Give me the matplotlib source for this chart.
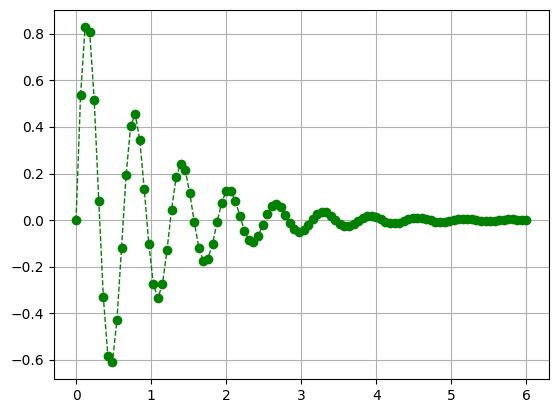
import numpy as np
import matplotlib
matplotlib.use("Agg")
import matplotlib.pyplot as plt

x = np.linspace(0, 6, 100)
y = [0.000, 0.536, 0.830, 0.808, 0.516, 0.082, -0.330, -0.583, -0.610, -0.427,
     -0.120, 0.192, 0.404, 0.455, 0.346, 0.132, -0.102, -0.275, -0.335, -0.274,
     -0.128, 0.045, 0.183, 0.243, 0.214, 0.116, -0.010, -0.119, -0.175, -0.165,
     -0.101, -0.009, 0.074, 0.124, 0.125, 0.084, 0.019, -0.045, -0.086, -0.094,
     -0.069, -0.023, 0.025, 0.059, 0.069, 0.055, 0.024, -0.012, -0.040, -0.051,
     -0.043, -0.022, 0.004, 0.026, 0.037, 0.034, 0.019, 0.000, -0.017, -0.026,
     -0.026, -0.017, -0.003, 0.010, 0.018, 0.019, 0.014, 0.004, -0.006, -0.013,
     -0.014, -0.011, -0.004, 0.003, 0.009, 0.011, 0.009, 0.004, -0.001, -0.006,
     -0.008, -0.007, -0.004, 0.000, 0.004, 0.005, 0.005, 0.003, 0.000, -0.002,
     -0.004, -0.004, -0.003, -0.001, 0.001, 0.003, 0.003, 0.002, 0.001, -0.001]

W, H = 559, 413
fig = plt.figure(figsize=(W / 100, H / 100), dpi=100)
ax = fig.add_axes([53.5 / W, (H - 379) / H, 495.5 / W, 369 / H])
ax.plot(x, y, 'go--', linewidth=1, markersize=6)
ax.grid(True)
fig.savefig("out.png", dpi=100)
